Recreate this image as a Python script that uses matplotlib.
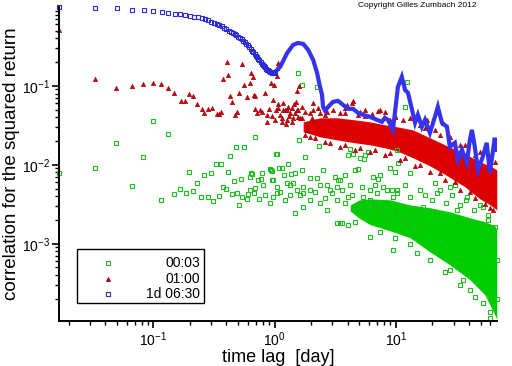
import matplotlib
matplotlib.use("Agg")
import matplotlib.pyplot as plt
from matplotlib.patches import Rectangle
from matplotlib.ticker import NullFormatter

plt.rcParams['font.family'] = ['Liberation Sans', 'DejaVu Sans']
plt.rcParams['mathtext.fontset'] = 'custom'
plt.rcParams['mathtext.rm'] = 'Liberation Sans'
plt.rcParams['mathtext.it'] = 'Liberation Sans:italic'

# ---- 1d 06:30 (blue): one point every 1/60 day up to one day
blue_lag = [0.0167, 0.033, 0.05, 0.067, 0.083, 0.1, 0.117, 0.133, 0.15, 0.167,
            0.183, 0.2, 0.217, 0.233, 0.25, 0.267, 0.283, 0.3, 0.317, 0.333,
            0.35, 0.367, 0.383, 0.4, 0.417, 0.433, 0.45, 0.467, 0.483, 0.5,
            0.517, 0.533, 0.55, 0.567, 0.583, 0.6, 0.617, 0.633, 0.65, 0.667,
            0.683, 0.7, 0.717, 0.733, 0.75, 0.767, 0.783, 0.8, 0.817, 0.833,
            0.85, 0.867, 0.883, 0.9, 0.917, 0.933, 0.95, 0.967, 0.983, 1.0]
blue_corr = [1.0, 0.97, 0.97, 0.92, 0.92, 0.89, 0.87, 0.84, 0.82, 0.81,
             0.79, 0.77, 0.75, 0.74, 0.73, 0.70, 0.69, 0.65, 0.63, 0.61,
             0.59, 0.57, 0.54, 0.52, 0.50, 0.48, 0.47, 0.46, 0.44, 0.42,
             0.41, 0.39, 0.37, 0.355, 0.34, 0.33, 0.31, 0.29, 0.28, 0.27,
             0.25, 0.24, 0.23, 0.22, 0.21, 0.20, 0.19, 0.185, 0.178, 0.174,
             0.166, 0.16, 0.157, 0.155, 0.15, 0.148, 0.146, 0.146, 0.146, 0.148]
# beyond one day the points are so dense they read as a thick line
blue_line_lag = [1.0, 1.11, 1.27, 1.42, 1.56, 1.72, 1.89, 2.08, 2.24, 2.33,
                 2.46, 2.51, 2.61, 2.76, 3.03, 3.33, 3.67, 4.03, 4.43, 4.87,
                 5.36, 6.12, 6.98, 7.67, 8.12, 8.60, 9.46, 10.4, 11.2, 11.9,
                 12.6, 13.6, 14.4, 15.2, 16.4, 17.4, 19.1, 21.0, 22.2, 24.0,
                 26.4, 27.9, 30.7, 32.5, 35.1, 38.5, 40.8, 42.4, 44.8, 47.5,
                 52.1, 56.2, 59.6, 65.5, 68.0]
blue_line_corr = [0.148, 0.174, 0.262, 0.330, 0.350, 0.340, 0.286, 0.213, 0.146, 0.109,
                  0.0769, 0.0542, 0.0483, 0.0542, 0.0627, 0.0646, 0.0575, 0.0512, 0.0512, 0.0455,
                  0.0430, 0.0405, 0.0371, 0.0350, 0.0394, 0.0371, 0.0277, 0.097, 0.130, 0.089,
                  0.0815, 0.0497, 0.034, 0.043, 0.0303, 0.0371, 0.0254, 0.0405, 0.0542, 0.034,
                  0.0303, 0.0169, 0.019, 0.0116, 0.0155, 0.0106, 0.0207, 0.0277, 0.0169, 0.00865,
                  0.0126, 0.019, 0.00792, 0.0220, 0.0155]

# ---- 01:00 (red)
red_lag = [0.0167, 0.0332, 0.0494, 0.067, 0.0826, 0.1, 0.116, 0.133, 0.149, 0.170,
           0.183, 0.198, 0.213, 0.230, 0.253, 0.263, 0.283, 0.306, 0.336, 0.349,
           0.362, 0.377, 0.406, 0.414, 0.430, 0.447, 0.473, 0.491, 0.510, 0.540,
           0.561, 0.593, 0.628, 0.640, 0.665, 0.678, 0.691, 0.691, 0.718, 0.760,
           0.789, 0.835, 0.867, 0.867, 0.901, 0.936, 0.954, 0.972, 0.99, 1.01,
           1.05, 1.05, 1.07, 1.07, 1.11, 1.15, 1.18, 1.22, 1.27, 1.34,
           1.39, 1.39, 1.42, 1.48, 1.50, 1.53, 1.53, 1.56, 1.59, 1.69,
           1.85, 1.96, 2.08, 2.08, 2.71, 3.46, 3.95, 4.35, 4.43, 5.06,
           7.12, 7.38, 9.84, 11.4, 18.0, 24.4,
           1.78, 2.16, 2.87, 3.81, 5.06, 6.73, 8.94, 11.9, 15.8, 23.1,
           30.7, 40.8, 54.2, 63.1, 2.37, 3.81, 5.56, 8.94, 13.1, 17.4,
           23.1, 33.7, 44.8, 59.6,
           1.07, 1.27, 1.29, 1.15, 1.69, 1.56,
           1.78, 2.04, 2.28, 2.60, 3.03, 3.81, 4.87, 5.56, 6.35, 8.12,
           9.84, 15.8, 21.0, 27.9, 37.1, 49.3, 65.5,
           1.96, 2.60, 3.46, 4.60, 6.12, 8.12, 10.8, 14.3, 19.1, 25.3,
           33.7, 44.8, 59.6,
           1.18, 1.32, 1.45, 1.62, 1.24, 1.03]
red_corr = [0.51, 0.123, 0.0944, 0.100, 0.106, 0.109, 0.106, 0.0944, 0.0815, 0.0646,
            0.0646, 0.0792, 0.0747, 0.0592, 0.0512, 0.0455, 0.0512, 0.0527, 0.0442, 0.0442,
            0.0469, 0.123, 0.201, 0.138, 0.0747, 0.0627, 0.043, 0.0469, 0.0815, 0.190,
            0.103, 0.0726, 0.109, 0.146, 0.130, 0.0769, 0.0512, 0.0747, 0.0455, 0.0497,
            0.0469, 0.0815, 0.043, 0.035, 0.0512, 0.109, 0.0417, 0.0665, 0.103, 0.0371,
            0.134, 0.169, 0.0592, 0.195, 0.043, 0.0394, 0.0609, 0.0497, 0.0371, 0.0455,
            0.0527, 0.035, 0.0394, 0.0455, 0.0627, 0.0865, 0.0497, 0.0405, 0.100, 0.0542,
            0.0277, 0.0455, 0.0609, 0.0497, 0.0469, 0.0455, 0.0575, 0.0609, 0.0646, 0.0469,
            0.0483, 0.0497, 0.0405, 0.0371, 0.0371, 0.034,
            0.024, 0.022, 0.019, 0.0179, 0.0164, 0.0155, 0.0142, 0.0123, 0.0100, 0.0079,
            0.0061, 0.00455, 0.0032, 0.0027, 0.0455, 0.0455, 0.0417, 0.0371, 0.0394, 0.0294,
            0.024, 0.0179, 0.0134, 0.0116,
            0.0527, 0.0497, 0.0542, 0.035, 0.0394, 0.0497,
            0.0469, 0.0394, 0.0527, 0.043, 0.0497, 0.0527, 0.043, 0.0497, 0.0442, 0.0469,
            0.0417, 0.0321, 0.0277, 0.0226, 0.0179, 0.0146, 0.0109,
            0.0226, 0.0196, 0.0169, 0.0155, 0.0146, 0.0134, 0.0116, 0.0097, 0.00815, 0.00646,
            0.00483, 0.0038, 0.00286,
            0.0497, 0.0417, 0.0592, 0.0394, 0.033, 0.0497]
# dense core of the red cloud (lower / upper edge)
red_band_lag = [1.72, 2.37, 3.27, 4.60, 6.12, 8.12, 10.2, 13.8, 19.1, 26.4, 37.1, 49.3, 59.6, 68.0]
red_band_low = [0.0262, 0.0226, 0.0207, 0.019, 0.0179, 0.0164, 0.015, 0.0123, 0.0097, 0.0073,
                0.00527, 0.00371, 0.00312, 0.00269]
red_band_high = [0.035, 0.0394, 0.0394, 0.0371, 0.035, 0.0321, 0.0303, 0.0277, 0.022, 0.0174,
                 0.0138, 0.0109, 0.0097, 0.00865]

# ---- 00:03 (green)
green_lag = [0.0167, 0.0332, 0.0494, 0.067, 0.0826, 0.1, 0.116, 0.133, 0.149, 0.167,
             0.187, 0.198, 0.213, 0.230, 0.248, 0.263, 0.283, 0.300, 0.311, 0.330,
             0.349, 0.362, 0.377, 0.399, 0.414, 0.430, 0.447, 0.465, 0.482, 0.491,
             0.510, 0.531, 0.540, 0.561, 0.593, 0.605, 0.628, 0.640, 0.653, 0.678,
             0.691, 0.691, 0.731, 0.745, 0.774, 0.789, 0.804, 0.918, 0.918, 0.936,
             0.954, 0.954, 0.972, 0.972, 1.03, 1.05, 1.05, 1.05, 1.09, 1.11,
             1.15, 1.20, 1.27, 1.29, 1.34, 1.37, 1.42, 1.48, 1.48, 1.53,
             1.56, 1.59, 1.69, 1.69, 1.72, 1.72, 1.72, 1.78, 1.96, 1.96,
             2.24, 2.24, 2.33, 2.37, 2.51, 2.71, 2.71, 3.15, 3.27, 3.27,
             3.27, 3.33, 3.46, 3.60, 3.60, 4.03, 4.03, 4.03, 4.19, 4.19,
             4.43, 4.60, 4.78, 4.87, 5.06, 5.26, 5.36, 5.46, 5.56, 5.89,
             6.12, 6.12, 6.12, 6.48, 6.98, 7.12, 7.83, 8.45, 8.94, 9.29,
             9.46, 9.46, 9.84, 10.2, 10.2, 10.2, 10.4, 11.9, 12.3, 13.1,
             13.1, 14.9, 16.7, 21.8, 27.9, 27.9, 31.9, 35.7, 38.5, 40.8,
             52.1, 52.1, 57.2, 59.6, 65.5,
             1.62, 2.16, 2.60, 2.97, 3.81, 4.35, 5.06, 5.68, 6.73, 7.67,
             8.60, 9.84, 11.2, 12.6, 14.1, 15.8, 17.4, 19.8, 23.1, 25.9,
             29.0, 33.7, 37.7, 43.9, 49.4, 57.2, 19.1, 25.3, 33.7, 44.8,
             59.6, 68.0, 68.0, 63.1, 7.38, 9.84, 13.1, 4.60, 0.628, 0.835,
             1.22, 1.34, 1.96, 2.37, 2.87, 3.46, 3.81, 6.73, 7.38, 11.9,
             15.8, 21.0, 30.7]
green_corr = [0.00792, 0.00916, 0.019, 0.00542, 0.0126, 0.0361, 0.0036, 0.0247, 0.0043, 0.00497,
              0.00442, 0.00815, 0.00469, 0.00592, 0.00394, 0.00747, 0.00394, 0.00792, 0.0035, 0.0103,
              0.00405, 0.0103, 0.00527, 0.00497, 0.00815, 0.013, 0.0043, 0.00627, 0.0169, 0.00442,
              0.00312, 0.00665, 0.00394, 0.0169, 0.00371, 0.0043, 0.00705, 0.00792, 0.00769, 0.00442,
              0.0226, 0.00512, 0.00646, 0.00371, 0.00665, 0.00792, 0.00558, 0.00889, 0.0033, 0.00865,
              0.0084, 0.00646, 0.00646, 0.00394, 0.0138, 0.0138, 0.00527, 0.00442, 0.00916, 0.00455,
              0.00916, 0.00747, 0.00592, 0.0103, 0.00558, 0.00769, 0.00592, 0.00792, 0.00247, 0.00483,
              0.146, 0.0207, 0.103, 0.00865, 0.00527, 0.00442, 0.00294, 0.0126, 0.00684, 0.0036,
              0.097, 0.00684, 0.0174, 0.0033, 0.00865, 0.00558, 0.00269, 0.00705, 0.00527, 0.0036,
              0.00185, 0.00646, 0.00185, 0.00483, 0.00185, 0.0134, 0.00394, 0.00174, 0.016, 0.00558,
              0.0138, 0.00865, 0.00269, 0.00889, 0.0123, 0.00527, 0.00394, 0.0119, 0.0134, 0.0146,
              0.00483, 0.0036, 0.00123, 0.00705, 0.00442, 0.00665, 0.00527, 0.00483, 0.00916, 0.00483,
              0.00394, 0.00084, 0.00815, 0.0155, 0.00442, 0.00483, 0.0106, 0.0542, 0.112, 0.00792,
              0.00394, 0.00077, 0.00294, 0.00442, 0.00527, 0.00047, 0.00269, 0.00035, 0.00394, 0.00026,
              0.00294, 0.00018, 0.00201, 0.000138, 0.00164,
              0.00417, 0.00455, 0.00383, 0.00442, 0.0033, 0.00417, 0.00312, 0.00254, 0.00312, 0.00254,
              0.00201, 0.00269, 0.00213, 0.00174, 0.00233, 0.0016, 0.00417, 0.0036, 0.00483, 0.0033,
              0.00417, 0.00312, 0.0036, 0.00269, 0.00312, 0.00233, 0.00063, 0.00044, 0.0003, 0.00021,
              0.000116, 0.0002, 0.00063, 0.0011, 0.00142, 0.00119, 0.00098, 0.0019, 0.00483, 0.00417,
              0.0036, 0.00417, 0.00483, 0.00558, 0.00483, 0.00646, 0.00747, 0.00558, 0.00747, 0.00558,
              0.00483, 0.00592, 0.00558]
# dense core of the green cloud (lower / upper edge)
green_band_lag = [4.2, 5.0, 6.12, 8.94, 13.1, 19.1, 27.9, 40.8, 54.2, 65.5, 68.0]
green_band_low = [0.0026, 0.0021, 0.00175, 0.00146, 0.00119, 0.00079, 0.00054,
                  0.00035, 0.000226, 0.000126, 0.00011]
green_band_high = [0.0031, 0.0036, 0.0037, 0.0036, 0.0031, 0.00286, 0.00254,
                   0.00213, 0.0019, 0.00169, 0.0015]

legend_labels = ['00:03', '01:00', '1d 06:30']

GREEN = '#22bb22'
RED = '#cc0000'
BLUE = '#3434ee'

fig = plt.figure(figsize=(5.12, 3.66), dpi=100)
ax = fig.add_axes([0.115, 0.123, 0.856, 0.858])
ax.set_xscale('log')
ax.set_yscale('log')

ax.fill_between(green_band_lag, green_band_low, green_band_high, color='#00cc00', lw=0)
ax.plot(green_lag, green_corr, ls='none', marker='s', ms=2.6, mfc='none',
        mec=GREEN, mew=0.8, clip_on=False)
ax.fill_between(red_band_lag, red_band_low, red_band_high, color='#dd0000', lw=0)
ax.plot(red_lag, red_corr, ls='none', marker='^', ms=3.2, mfc=RED, mec='#990011',
        mew=0.4, clip_on=False)
ax.plot(blue_line_lag, blue_line_corr, color=BLUE, lw=3.0, solid_joinstyle='miter')
ax.plot(blue_lag, blue_corr, ls='none', marker='s', ms=2.6, mfc='none',
        mec='#2a2ad8', mew=0.8, clip_on=False)

ax.set_xlim(0.0166, 68.5)
ax.set_ylim(1.05e-4, 1.0)
ax.set_xticks([0.1, 1, 10])
ax.set_xticklabels([r'$10^{-1}$', r'$10^{0}$', r'$10^{1}$'])
ax.set_yticks([1e-3, 1e-2, 1e-1])
ax.set_yticklabels([r'$10^{-3}$', r'$10^{-2}$', r'$10^{-1}$'])
ax.xaxis.set_minor_formatter(NullFormatter())
ax.yaxis.set_minor_formatter(NullFormatter())

for side in ['top', 'right']:
    ax.spines[side].set_visible(False)
for side in ['left', 'bottom']:
    ax.spines[side].set_linewidth(1.4)
ax.tick_params(which='major', direction='out', length=5, width=1.2,
               labelsize=10, pad=1.5)
ax.tick_params(which='minor', direction='out', length=3, width=1.0)

ax.set_xlabel('time lag  [day]', fontsize=13)
ax.set_ylabel('correlation for the squared return', fontsize=13.5)
ax.xaxis.set_label_coords(0.5, -0.088)
ax.yaxis.set_label_coords(-0.088, 0.5)

fig.text(0.699, 0.986, 'Copyright Gilles Zumbach 2012', fontsize=6, va='center')

# legend box drawn by hand so the labels can be right aligned
ax.add_patch(Rectangle((0.041, 0.057), 0.29, 0.172, transform=ax.transAxes,
                       fill=False, lw=1.0, ec='black', zorder=5))
leg_style = [dict(marker='s', mfc='none', mec='#33aa33', mew=0.8, ms=2.6),
             dict(marker='^', mfc='#990022', mec='#990022', mew=0.4, ms=3.2),
             dict(marker='s', mfc='none', mec='#3333aa', mew=0.8, ms=2.6)]
for label, style, yy in zip(legend_labels, leg_style, [0.185, 0.134, 0.086]):
    ax.plot([0.112], [yy], ls='none', transform=ax.transAxes, clip_on=False,
            zorder=6, **style)
    ax.text(0.322, yy, label, transform=ax.transAxes, ha='right', va='center',
            fontsize=10, zorder=6)

fig.savefig('out.png', dpi=100)
